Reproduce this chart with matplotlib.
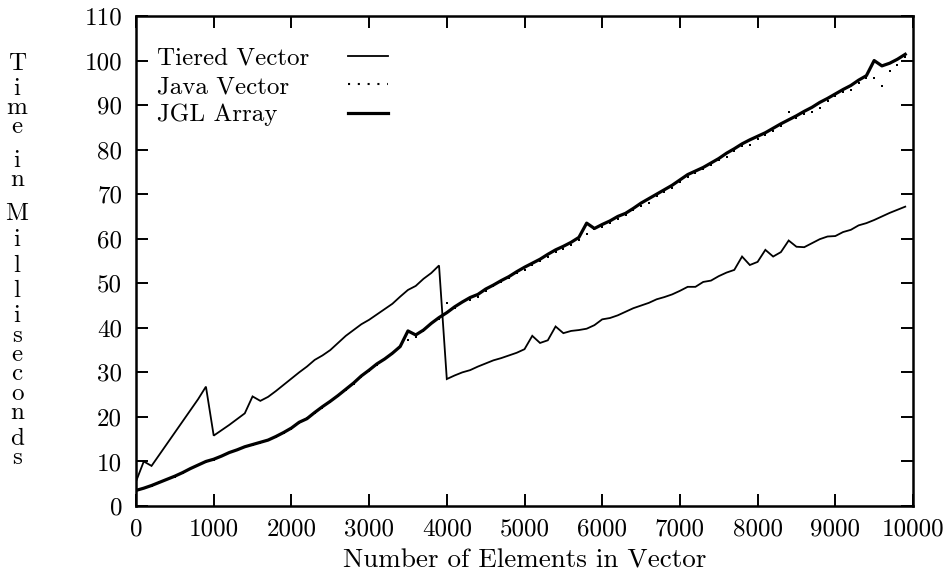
import matplotlib
matplotlib.use("Agg")
import matplotlib.pyplot as plt
from matplotlib.lines import Line2D

plt.rcParams['font.family'] = ['cmr10', 'DejaVu Sans']
plt.rcParams['axes.unicode_minus'] = False
plt.rcParams['axes.formatter.use_mathtext'] = False

# ---- data ----
elements = list(range(0, 10000, 100))

tiered_vector = [
    5.5, 10.0, 9.0, 11.5, 14.0, 16.5, 19.0, 21.5, 24.0, 26.8,
    15.8, 17.0, 18.2, 19.5, 20.8, 24.6, 23.6, 24.5, 25.8, 27.2,
    28.6, 30.0, 31.3, 32.8, 33.8, 35.0, 36.6, 38.2, 39.5, 40.8,
    41.8, 43.0, 44.2, 45.4, 47.0, 48.5, 49.4, 51.0, 52.3, 54.0,
    28.5, 29.3, 30.0, 30.5, 31.3, 32.0, 32.7, 33.2, 33.8, 34.4,
    35.2, 38.2, 36.6, 37.2, 40.3, 38.8, 39.3, 39.5, 39.8, 40.6,
    41.9, 42.2, 42.8, 43.6, 44.4, 45.0, 45.6, 46.4, 46.9, 47.5,
    48.3, 49.2, 49.2, 50.3, 50.6, 51.6, 52.4, 53.0, 56.0, 54.1,
    54.8, 57.5, 56.0, 57.0, 59.6, 58.2, 58.1, 59.0, 59.9, 60.5,
    60.6, 61.5, 62.0, 63.0, 63.5, 64.2, 65.0, 65.8, 66.5, 67.2,
]

java_vector = [
    3.4, 4.0, 4.6, 5.3, 6.0, 6.6, 7.5, 8.3, 9.1, 9.9,
    10.4, 11.2, 11.9, 12.6, 13.2, 13.7, 14.2, 14.9, 15.6, 16.4,
    17.3, 18.6, 19.7, 20.9, 22.1, 23.4, 24.7, 26.0, 27.5, 29.0,
    30.3, 31.7, 32.9, 34.2, 35.6, 37.3, 38.0, 39.3, 40.8, 42.0,
    45.5, 44.4, 45.9, 46.3, 47.0, 48.2, 49.3, 50.2, 51.2, 52.2,
    53.0, 54.0, 55.0, 56.0, 57.0, 57.6, 58.6, 59.8, 61.0, 62.1,
    62.7, 63.6, 64.5, 65.3, 66.4, 67.4, 68.1, 69.5, 70.6, 71.5,
    72.7, 73.8, 74.8, 75.6, 76.5, 77.6, 78.3, 79.8, 80.8, 81.0,
    82.5, 83.3, 84.2, 85.3, 88.5, 87.2, 88.1, 88.5, 89.3, 91.0,
    92.1, 93.0, 93.4, 94.9, 96.0, 96.1, 94.3, 97.7, 99.1, 100.8,
]

jgl_array = [
    3.5, 4.0, 4.6, 5.3, 6.0, 6.7, 7.5, 8.4, 9.2, 10.0,
    10.5, 11.2, 12.0, 12.6, 13.3, 13.8, 14.3, 14.8, 15.6, 16.5,
    17.5, 18.8, 19.6, 21.0, 22.3, 23.5, 24.8, 26.2, 27.6, 29.2,
    30.5, 31.9, 33.0, 34.3, 35.8, 39.3, 38.4, 39.5, 41.0, 42.3,
    43.4, 44.7, 45.8, 46.8, 47.5, 48.7, 49.6, 50.6, 51.5, 52.6,
    53.6, 54.5, 55.4, 56.5, 57.5, 58.3, 59.2, 60.3, 63.5, 62.3,
    63.2, 64.0, 65.0, 65.7, 66.8, 68.0, 69.0, 70.0, 71.0, 72.0,
    73.2, 74.4, 75.2, 76.0, 77.0, 78.0, 79.2, 80.2, 81.3, 82.2,
    83.0, 83.8, 84.8, 85.8, 86.7, 87.6, 88.6, 89.5, 90.6, 91.5,
    92.5, 93.5, 94.4, 95.6, 96.6, 100.0, 98.8, 99.4, 100.3, 101.4,
]

series_labels = ["Tiered Vector", "Java Vector", "JGL Array"]
x_ticks = list(range(0, 10001, 1000))
y_ticks = list(range(0, 111, 10))
x_label = "Number of Elements in Vector"
y_label = "Time in Milliseconds"

# ---- figure ----
W, H = 951, 577
fig = plt.figure(figsize=(W / 100, H / 100), dpi=100)
ax = fig.add_axes([136 / W, 71 / H, 777 / W, 490 / H])

FS = 18
tiered_line, = ax.plot(elements, tiered_vector, color='black', lw=1.3,
                       solid_joinstyle='miter')
java_pts, = ax.plot(elements, java_vector, color='black', ls='none',
                    marker='s', markersize=2.0, markeredgewidth=0)
jgl_line, = ax.plot(elements, jgl_array, color='black', lw=2.3)

ax.set_xlim(0, 10000)
ax.set_ylim(0, 110)
ax.set_xticks(x_ticks)
ax.set_yticks(y_ticks)
ax.tick_params(direction='in', length=8.5, width=1.4, top=True, right=True,
               labelsize=FS, colors='black')
ax.tick_params(axis='x', pad=9)
ax.tick_params(axis='y', pad=10)
for s in ax.spines.values():
    s.set_linewidth(1.8)

ax.set_xlabel(x_label, fontsize=19.5, labelpad=6)

# stacked y-label (LaTeX \shortstack style), baselines in pixels from top
letter_baselines = [69.5, 94.7, 114, 133.3, 167, 186.3, 220.4, 245.6, 271.5,
                    297.3, 322.5, 341.8, 361.1, 380.4, 399.7, 419, 444.8, 464.1]
letters = [c for c in y_label if c != ' ']
for c, yp in zip(letters, letter_baselines):
    fig.text(17 / W, 1 - yp / H, c, fontsize=FS, ha='center', va='baseline')

# legend: text column (left-aligned) and sample column
java_proxy = Line2D([], [], color='black', ls=(0, (1, 3.7)), lw=1.5)
handles = [Line2D([], [], color='black', lw=1.3), java_proxy,
           Line2D([], [], color='black', lw=2.3)]

top_anchor = 1 - (47 - 16) / 490
LS = 0.24
leg_text = ax.legend(handles, series_labels, loc='upper left',
                     bbox_to_anchor=((157 - 136) / 777, top_anchor),
                     frameon=False, fontsize=FS, handlelength=0,
                     handletextpad=0, borderpad=0, borderaxespad=0,
                     labelspacing=LS)
for h in leg_text.legend_handles:
    h.set_visible(False)
ax.add_artist(leg_text)

leg_lines = ax.legend(handles, series_labels, loc='upper left',
                      bbox_to_anchor=((348 - 136) / 777, top_anchor),
                      frameon=False, fontsize=FS, handlelength=40 / (FS * 100 / 72),
                      handletextpad=0, borderpad=0, borderaxespad=0,
                      labelspacing=LS)
for t in leg_lines.get_texts():
    t.set_alpha(0)

fig.savefig("out.png", dpi=100)
